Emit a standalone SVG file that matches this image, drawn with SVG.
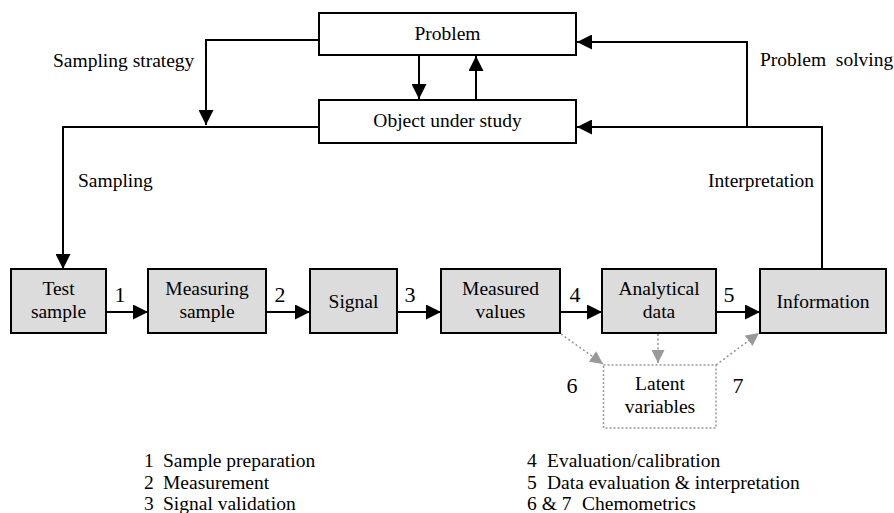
<svg xmlns="http://www.w3.org/2000/svg" width="894" height="513" viewBox="0 0 894 513">
<style>
text{font-family:"Liberation Serif","Times New Roman","DejaVu Serif",serif;font-size:19.5px;fill:#000}
.c{text-anchor:middle}
.num{font-size:22px}
.box{fill:#fff;stroke:#000;stroke-width:2}
.gbox{fill:#dcdcdc;stroke:#000;stroke-width:2}
.lat{fill:#fff;stroke:#999;stroke-width:1.5;stroke-dasharray:2 2}
.ln{fill:none;stroke:#000;stroke-width:2}
.dl{fill:none;stroke:#999;stroke-width:1.6;stroke-dasharray:2 2.5}
</style>
<defs>
<marker id="a" markerUnits="userSpaceOnUse" markerWidth="15" markerHeight="15" refX="15" refY="7.5" orient="auto"><path d="M0,0 L15,7.5 L0,15 z" fill="#000"/></marker>
<marker id="g" markerUnits="userSpaceOnUse" markerWidth="13" markerHeight="13" refX="13" refY="6.5" orient="auto"><path d="M0,0 L13,6.5 L0,13 z" fill="#999"/></marker>
</defs>
<rect width="894" height="513" fill="#fff"/>
<g id="connectors">
<path class="ln" d="M419,55 V99" marker-end="url(#a)"/>
<path class="ln" d="M476,99 V56" marker-end="url(#a)"/>
<path class="ln" d="M319,40 H206 V125" marker-end="url(#a)"/>
<path class="ln" d="M319,127 H63 V269" marker-end="url(#a)"/>
<path class="ln" d="M822,269 V127 H577" marker-end="url(#a)"/>
<path class="ln" d="M747,127 V42 H577" marker-end="url(#a)"/>
<path class="ln" d="M106,312 H148" marker-end="url(#a)"/>
<path class="ln" d="M266,312 H310" marker-end="url(#a)"/>
<path class="ln" d="M397,312 H441" marker-end="url(#a)"/>
<path class="ln" d="M560,312 H602" marker-end="url(#a)"/>
<path class="ln" d="M716,312 H760" marker-end="url(#a)"/>
<path class="dl" d="M561,334 L603,364" marker-end="url(#g)"/>
<path class="dl" d="M658,334 V363" marker-end="url(#g)"/>
<path class="dl" d="M716,365 L759,333" marker-end="url(#g)"/>
<text x="53" y="67">Sampling strategy</text>
<text x="78" y="187">Sampling</text>
<text x="760" y="66" xml:space="preserve">Problem  solving</text>
<text x="708" y="187">Interpretation</text>
<text class="num c" x="120" y="302">1</text>
<text class="num c" x="280" y="302">2</text>
<text class="num c" x="410" y="302">3</text>
<text class="num c" x="575" y="302">4</text>
<text class="num c" x="729" y="302">5</text>
<text class="num c" x="572" y="393">6</text>
<text class="num c" x="738" y="393">7</text>
</g>
<g id="problem"><rect class="box" x="319" y="13" width="257" height="42"/><text class="c" x="447.5" y="40">Problem</text></g>
<g id="object"><rect class="box" x="319" y="100" width="257" height="43"/><text class="c" x="447.5" y="127">Object under study</text></g>
<g id="test-sample"><rect class="gbox" x="11" y="269" width="95" height="64"/><text class="c" x="58.5" y="295">Test</text><text class="c" x="58.5" y="318">sample</text></g>
<g id="measuring-sample"><rect class="gbox" x="148" y="269" width="118" height="64"/><text class="c" x="207" y="295">Measuring</text><text class="c" x="207" y="318">sample</text></g>
<g id="signal"><rect class="gbox" x="310" y="269" width="87" height="64"/><text class="c" x="353.5" y="308">Signal</text></g>
<g id="measured-values"><rect class="gbox" x="441" y="269" width="119" height="64"/><text class="c" x="500.5" y="295">Measured</text><text class="c" x="500.5" y="318">values</text></g>
<g id="analytical-data"><rect class="gbox" x="602" y="269" width="114" height="64"/><text class="c" x="659" y="295">Analytical</text><text class="c" x="659" y="318">data</text></g>
<g id="information"><rect class="gbox" x="760" y="269" width="126" height="64"/><text class="c" x="823" y="308">Information</text></g>
<g id="latent-variables"><rect class="lat" x="603.5" y="365" width="112.5" height="63"/><text class="c" x="660" y="390">Latent</text><text class="c" x="660" y="413">variables</text></g>
<g id="legend">
<text x="144" y="467">1</text><text x="163" y="467">Sample preparation</text>
<text x="144" y="489">2</text><text x="163" y="489">Measurement</text>
<text x="144" y="510">3</text><text x="163" y="510">Signal validation</text>
<text x="527" y="467">4</text><text x="547" y="467">Evaluation/calibration</text>
<text x="527" y="489">5</text><text x="547" y="489">Data evaluation &amp; interpretation</text>
<text x="527" y="510">6 &amp; 7</text><text x="582" y="510">Chemometrics</text>
</g>
</svg>
